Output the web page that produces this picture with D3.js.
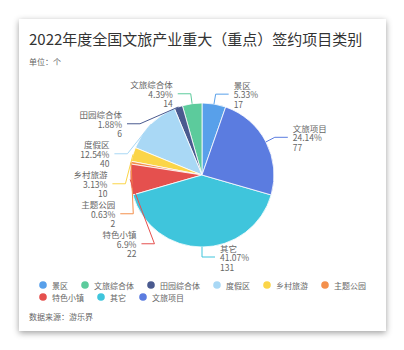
<!DOCTYPE html>
<html>
<head>
<meta charset="utf-8">
<script src="https://cdn.jsdelivr.net/npm/d3@7"></script>
<style>
  html, body { margin: 0; padding: 0; background: #fff; }
  svg { display: block; font-family: "Noto Sans CJK SC", "Noto Sans", sans-serif; }
</style>
</head>
<body>
<svg id="chart" width="404" height="350"></svg>
<script>
// data, legend order
const names = ['景区', '文旅综合体', '田园综合体', '度假区', '乡村旅游', '主题公园', '特色小镇', '其它', '文旅项目'];
const values = [17, 14, 6, 40, 10, 2, 22, 131, 77];
const colors = ['#58a0ea', '#5ccb9c', '#4a5a8f', '#a9d8f5', '#fbd548', '#f4904c', '#e5504e', '#3fc5dc', '#5b7ce0'];

const title = '2022年度全国文旅产业重大（重点）签约项目类别';
const unitText = '单位：个';
const sourceText = '数据来源：游乐界';

const data = names.map((name, i) => ({ name, value: values[i], color: colors[i] }));
const total = d3.sum(values);

const svg = d3.select('#chart');

// card with shadow
const defs = svg.append('defs');
const filter = defs.append('filter').attr('id', 'shadow')
  .attr('x', '-10%').attr('y', '-10%').attr('width', '120%').attr('height', '120%');
filter.append('feDropShadow')
  .attr('dx', 0).attr('dy', 2).attr('stdDeviation', 3)
  .attr('flood-color', '#000').attr('flood-opacity', 0.38);

svg.append('rect')
  .attr('x', 19).attr('y', 19).attr('width', 367).attr('height', 312)
  .attr('fill', '#fff').attr('filter', 'url(#shadow)');

svg.append('text')
  .attr('x', 29).attr('y', 45)
  .attr('font-size', 15).attr('fill', '#333')
  .text(title);

svg.append('text')
  .attr('x', 29).attr('y', 65)
  .attr('font-size', 8).attr('fill', '#666')
  .text(unitText);

// pie
const cx = 202, cy = 175, r = 72;
const len1 = 10, len2 = 13, gap = 5;
const R = r + len1 + len2;
const blockH = 30, lineH = 9.5;

const a0 = 2 * Math.PI * values[0] / total;
const pie = d3.pie().sort(null).value(d => d.value)
  .startAngle(a0).endAngle(a0 - 2 * Math.PI);
const arc = d3.arc().innerRadius(0).outerRadius(r);
const arcs = pie(data);

const g = svg.append('g').attr('transform', `translate(${cx},${cy})`);
g.selectAll('path')
  .data(arcs)
  .join('path')
  .attr('d', arc)
  .attr('fill', d => d.data.color)
  .attr('stroke', '#fff')
  .attr('stroke-width', 0.8);

// labels
const fmt = v => +(v * 100 / total).toFixed(2) + '%';

const labels = arcs.map(a => {
  const t = (a.startAngle + a.endAngle) / 2;
  const s = Math.sin(t), c = Math.cos(t);
  const dir = s < -1e-6 ? -1 : 1;
  return {
    d: a.data,
    dir,
    p0: [cx + r * s, cy - r * c],
    p1: [cx + (r + len1) * s, cy - (r + len1) * c],
    y: cy - (r + len1) * c,
    shifted: false
  };
});

// push overlapping labels down, one side at a time
[-1, 1].forEach(dir => {
  const side = labels.filter(l => l.dir === dir).sort((a, b) => a.y - b.y);
  let lastY = -Infinity;
  side.forEach(l => {
    if (l.y < lastY + blockH) {
      l.y = lastY + blockH;
      l.shifted = true;
    }
    lastY = l.y;
  });
});

labels.forEach(l => {
  if (l.shifted) {
    const dy = Math.abs(l.y - cy);
    const dx = dy < R ? Math.sqrt(R * R - dy * dy) : Math.abs(l.p1[0] - cx);
    l.tx = cx + l.dir * dx;
    l.p2 = [l.tx - l.dir * gap, l.y];
    l.p1 = [l.p2[0] - l.dir * len2, l.y];
  } else {
    l.p2 = [l.p1[0] + l.dir * len2, l.y];
    l.tx = l.p2[0] + l.dir * gap;
  }
});

const line = d3.line();
svg.append('g').selectAll('path')
  .data(labels)
  .join('path')
  .attr('d', l => line([l.p0, l.p1, l.p2]))
  .attr('fill', 'none')
  .attr('stroke', l => l.d.color)
  .attr('stroke-width', 1);

const lt = svg.append('g').selectAll('text')
  .data(labels)
  .join('text')
  .attr('font-size', 8.5)
  .attr('fill', '#666')
  .attr('text-anchor', l => l.dir < 0 ? 'end' : 'start');

lt.each(function (l) {
  const rows = [l.d.name, fmt(l.d.value), String(l.d.value)];
  rows.forEach((row, i) => {
    d3.select(this).append('tspan')
      .attr('x', l.tx)
      .attr('y', l.y + (i - 1) * lineH)
      .attr('dominant-baseline', 'central')
      .text(row);
  });
});

// legend
const legendLeft = 39, legendRight = 380, itemGap = 13, rowH = 12;
let lx = legendLeft, ly = 285;
const legend = svg.append('g');
data.forEach(d => {
  const item = legend.append('g');
  const txt = item.append('text')
    .attr('font-size', 8).attr('fill', '#666')
    .attr('dominant-baseline', 'central')
    .text(d.name);
  const w = 13 + txt.node().getComputedTextLength();
  if (lx + w > legendRight) {
    lx = legendLeft;
    ly += rowH;
  }
  item.append('circle')
    .attr('cx', lx + 4).attr('cy', ly).attr('r', 3.8)
    .attr('fill', d.color);
  txt.attr('x', lx + 13).attr('y', ly);
  lx += w + itemGap;
});

svg.append('text')
  .attr('x', 29).attr('y', 320)
  .attr('font-size', 8).attr('fill', '#666')
  .text(sourceText);
</script>
</body>
</html>
